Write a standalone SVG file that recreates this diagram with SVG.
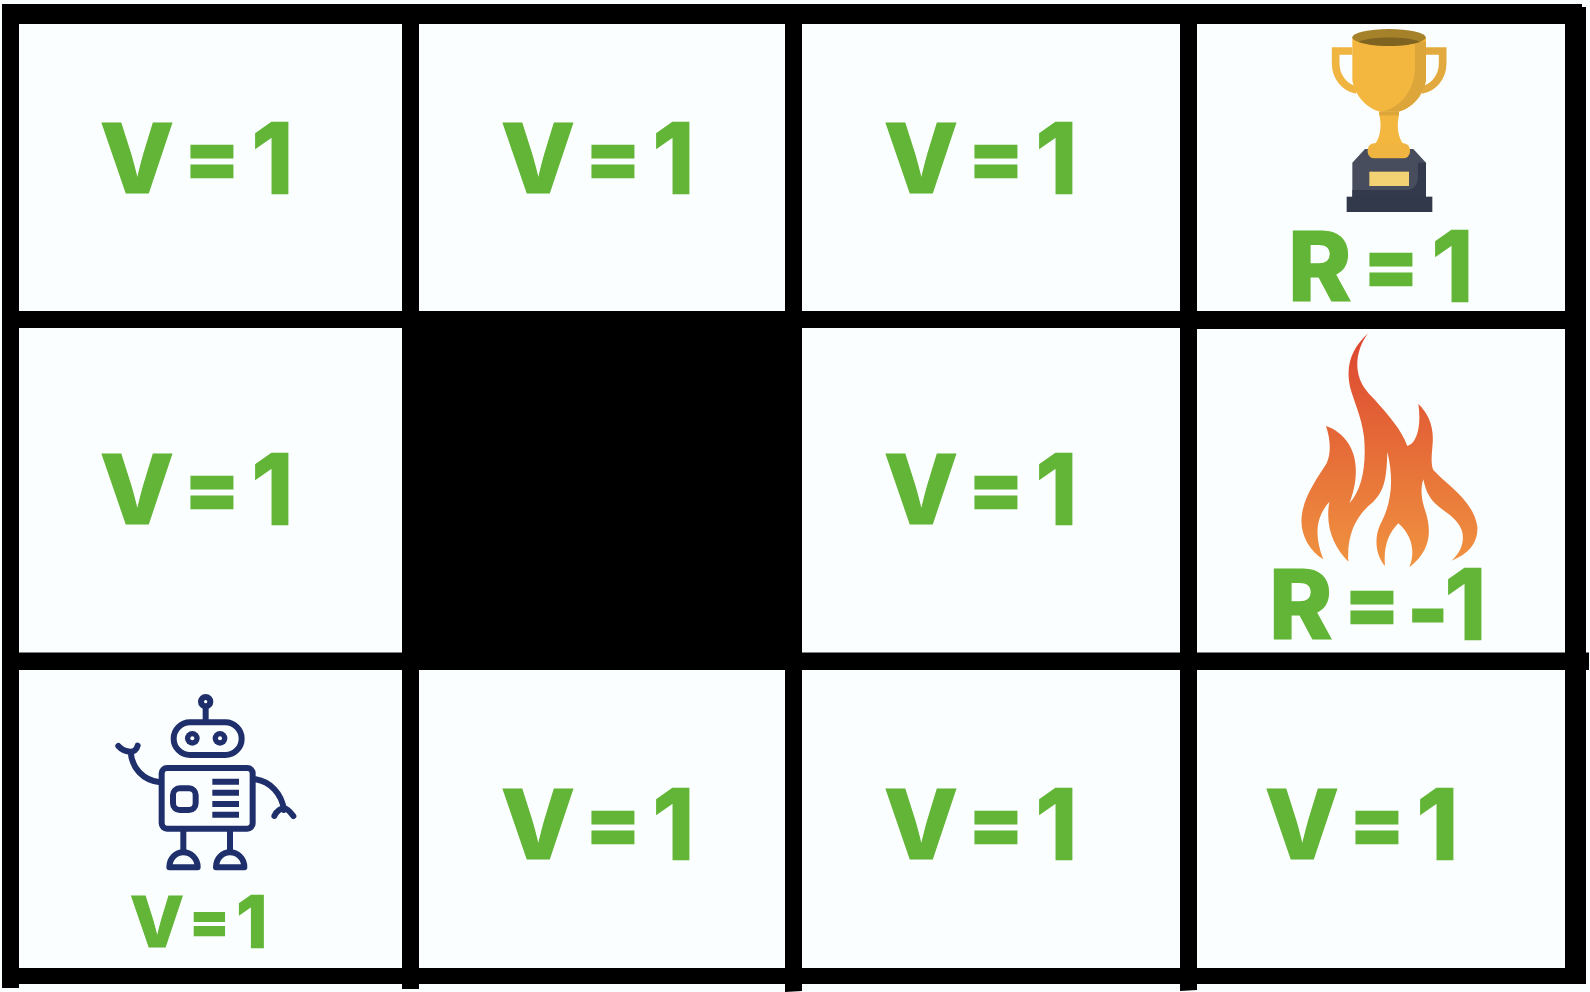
<svg xmlns="http://www.w3.org/2000/svg" width="1590" height="992" viewBox="0 0 1590 992">
<defs>
<style>
.cell{fill:#fbfefe}
.lbl{font-family:Inter,"Liberation Sans",sans-serif;font-weight:800;fill:#62b536;stroke:#62b536;stroke-width:1.2px;font-size:96px}
.sm{font-size:70px;stroke-width:1px}
.eq{font-size:80px;stroke-width:2.5px}
.eqs{font-size:58px;stroke-width:2px}
.one{font-weight:700;stroke-width:2.5px}
.hy{font-size:84px;stroke-width:3px}
.rb{fill:none;stroke:#1f2f6b;stroke-width:18;stroke-linecap:round;stroke-linejoin:round}
.rbl{fill:none;stroke:#1f2f6b;stroke-width:18}
</style>
<linearGradient id="fl" gradientUnits="userSpaceOnUse" x1="0" y1="40" x2="0" y2="745"><stop offset="0" stop-color="#dc4530"/><stop offset="1" stop-color="#f09440"/></linearGradient>
</defs>
<rect width="1590" height="992" fill="#fbfefe"/>
<g id="connectors">
<path fill="#000" d="M2 4H1582V7H1586V652.5H1589V670H1586V984H1197V990L1180 991V984H802V991L785 992V984H419V989H402V984H19V988H2Z"/>
</g>
<g id="cells">
<rect class="cell" x="19" y="24" width="383" height="287"/>
<rect class="cell" x="419" y="24" width="366" height="287"/>
<rect class="cell" x="802" y="24" width="378" height="287"/>
<rect class="cell" x="1197" y="24" width="368" height="287"/>
<rect class="cell" x="19" y="328" width="383" height="324.500"/>
<rect class="cell" x="802" y="328" width="378" height="324.500"/>
<rect class="cell" x="1197" y="329" width="368" height="323.500"/>
<rect class="cell" x="19" y="670" width="383" height="298"/>
<rect class="cell" x="419" y="670" width="366" height="298"/>
<rect class="cell" x="802" y="670" width="378" height="298"/>
<rect class="cell" x="1197" y="670" width="368" height="298"/>
</g>
<g id="labels">
<text class="lbl" y="193"><tspan x="100">V</tspan><tspan class="eq" x="184.500" dy="-8">=</tspan><tspan class="one" x="252" dy="8">1</tspan></text>
<text class="lbl" y="193"><tspan x="501">V</tspan><tspan class="eq" x="585.500" dy="-8">=</tspan><tspan class="one" x="653" dy="8">1</tspan></text>
<text class="lbl" y="193"><tspan x="884">V</tspan><tspan class="eq" x="968.500" dy="-8">=</tspan><tspan class="one" x="1036" dy="8">1</tspan></text>
<text class="lbl" y="524"><tspan x="100">V</tspan><tspan class="eq" x="184.500" dy="-8">=</tspan><tspan class="one" x="252" dy="8">1</tspan></text>
<text class="lbl" y="524"><tspan x="884">V</tspan><tspan class="eq" x="968.500" dy="-8">=</tspan><tspan class="one" x="1036" dy="8">1</tspan></text>
<text class="lbl" y="859"><tspan x="501">V</tspan><tspan class="eq" x="585.500" dy="-8">=</tspan><tspan class="one" x="653" dy="8">1</tspan></text>
<text class="lbl" y="859"><tspan x="884">V</tspan><tspan class="eq" x="968.500" dy="-8">=</tspan><tspan class="one" x="1036" dy="8">1</tspan></text>
<text class="lbl" y="859"><tspan x="1265">V</tspan><tspan class="eq" x="1349.500" dy="-8">=</tspan><tspan class="one" x="1417" dy="8">1</tspan></text>
<text class="lbl sm" y="947"><tspan x="130">V</tspan><tspan class="eqs" x="189.500" dy="-6">=</tspan><tspan class="one" x="237" dy="6">1</tspan></text>
<text class="lbl" y="301"><tspan x="1288">R</tspan><tspan class="eq" x="1363.500" dy="-8">=</tspan><tspan class="one" x="1432" dy="8">1</tspan></text>
<text class="lbl" y="639"><tspan x="1269">R</tspan><tspan class="eq" x="1344.500" dy="-8">=</tspan><tspan class="hy" x="1408" dy="9">-</tspan><tspan class="one" x="1445" dy="-1">1</tspan></text>
</g>
<g id="trophy" transform="translate(1190 0) scale(.33333)">
<path d="M487 153H437V190C437 232 465 264 500 270" fill="none" stroke="#f0b440" stroke-width="23"/>
<path d="M708 153H758V190C758 232 730 264 695 270" fill="none" stroke="#e2aa3e" stroke-width="23"/>
<path d="M487 112V240C495 288 530 325 570 335H625C665 325 700 288 708 240V112Z" fill="#f3b63e"/>
<path d="M675 125H708V240C700 288 665 325 625 335H570C640 325 675 260 675 200Z" fill="#dca63b"/>
<path d="M568 335H627V345C620 375 622 410 642 435H553C573 410 575 375 568 345Z" fill="#f3b63e"/>
<rect x="568" y="335" width="59" height="11" fill="#dca63b"/>
<path d="M487 488L525 447H670L708 488V592H487Z" fill="#474d5c"/>
<path d="M684 488H708V592H487V570H650C675 570 684 550 684 525Z" fill="#333a4b"/>
<rect x="533" y="430" width="127" height="45" rx="20" fill="#f0b440"/>
<rect x="538" y="515" width="119" height="43" fill="#f2d272"/>
<rect x="470" y="590" width="257" height="46" fill="#32394a"/>
<ellipse cx="597" cy="112" rx="110" ry="25" fill="#a5822a"/>
<path d="M505 125C540 108 655 108 690 125C650 142 545 142 505 125Z" fill="#7f6320"/>
</g>
<g id="fire" transform="translate(1190 320) scale(.33333)">
<path fill="url(#fl)" d="M535 40C510 70 498 115 503 150C508 190 530 215 555 240C595 285 635 330 652 378C680 370 695 320 685 252C715 280 732 320 728 370C725 410 722 430 730 450C770 495 850 540 862 620C865 665 840 700 785 722C815 695 825 660 815 630C800 590 760 575 735 550C715 530 705 505 700 478C690 510 695 540 705 570C725 630 725 690 658 742C675 700 670 650 625 610C595 640 580 680 585 738C560 710 550 660 570 615C600 560 615 490 592 395C590 470 585 510 550 545C500 585 470 640 475 725C430 680 405 620 418 545C380 590 370 640 400 718C355 690 330 640 335 590C340 530 385 470 410 430C425 395 420 355 408 318C460 335 495 385 497 440C500 480 490 520 478 550C515 510 530 440 522 350C515 290 490 240 480 200C465 130 490 80 535 40Z"/>
</g>
<g id="robot" transform="translate(90 680) scale(.33333)">
<circle class="rb" cx="347" cy="65" r="14"/>
<path class="rb" d="M347 87V120"/>
<rect class="rb" x="251" y="127" width="204" height="98" rx="49"/>
<circle cx="307" cy="175" r="22" fill="#1f2f6b"/><circle cx="307" cy="175" r="6" fill="#fbfefe"/>
<circle cx="390" cy="175" r="22" fill="#1f2f6b"/><circle cx="390" cy="175" r="6" fill="#fbfefe"/>
<rect class="rb" x="215" y="264" width="273" height="182" rx="16"/>
<rect class="rb" x="249" y="325" width="68" height="65" rx="20"/>
<path class="rbl" d="M367 305H447M367 338H447M367 372H447M367 404H447"/>
<path class="rb" d="M207 306C160 300 125 265 122 215M85 198C100 215 115 215 122 215C130 215 140 210 143 197"/>
<path class="rb" d="M497 298C540 305 575 340 582 390M553 408C560 390 575 385 582 385C590 385 600 395 610 408"/>
<path class="rb" d="M280 452V510M420 452V510"/>
<path class="rb" d="M238 562C238 535 258 517 280 517C302 517 323 535 323 562Z"/>
<path class="rb" d="M378 562C378 535 398 517 420 517C442 517 463 535 463 562Z"/>
</g>
</svg>
